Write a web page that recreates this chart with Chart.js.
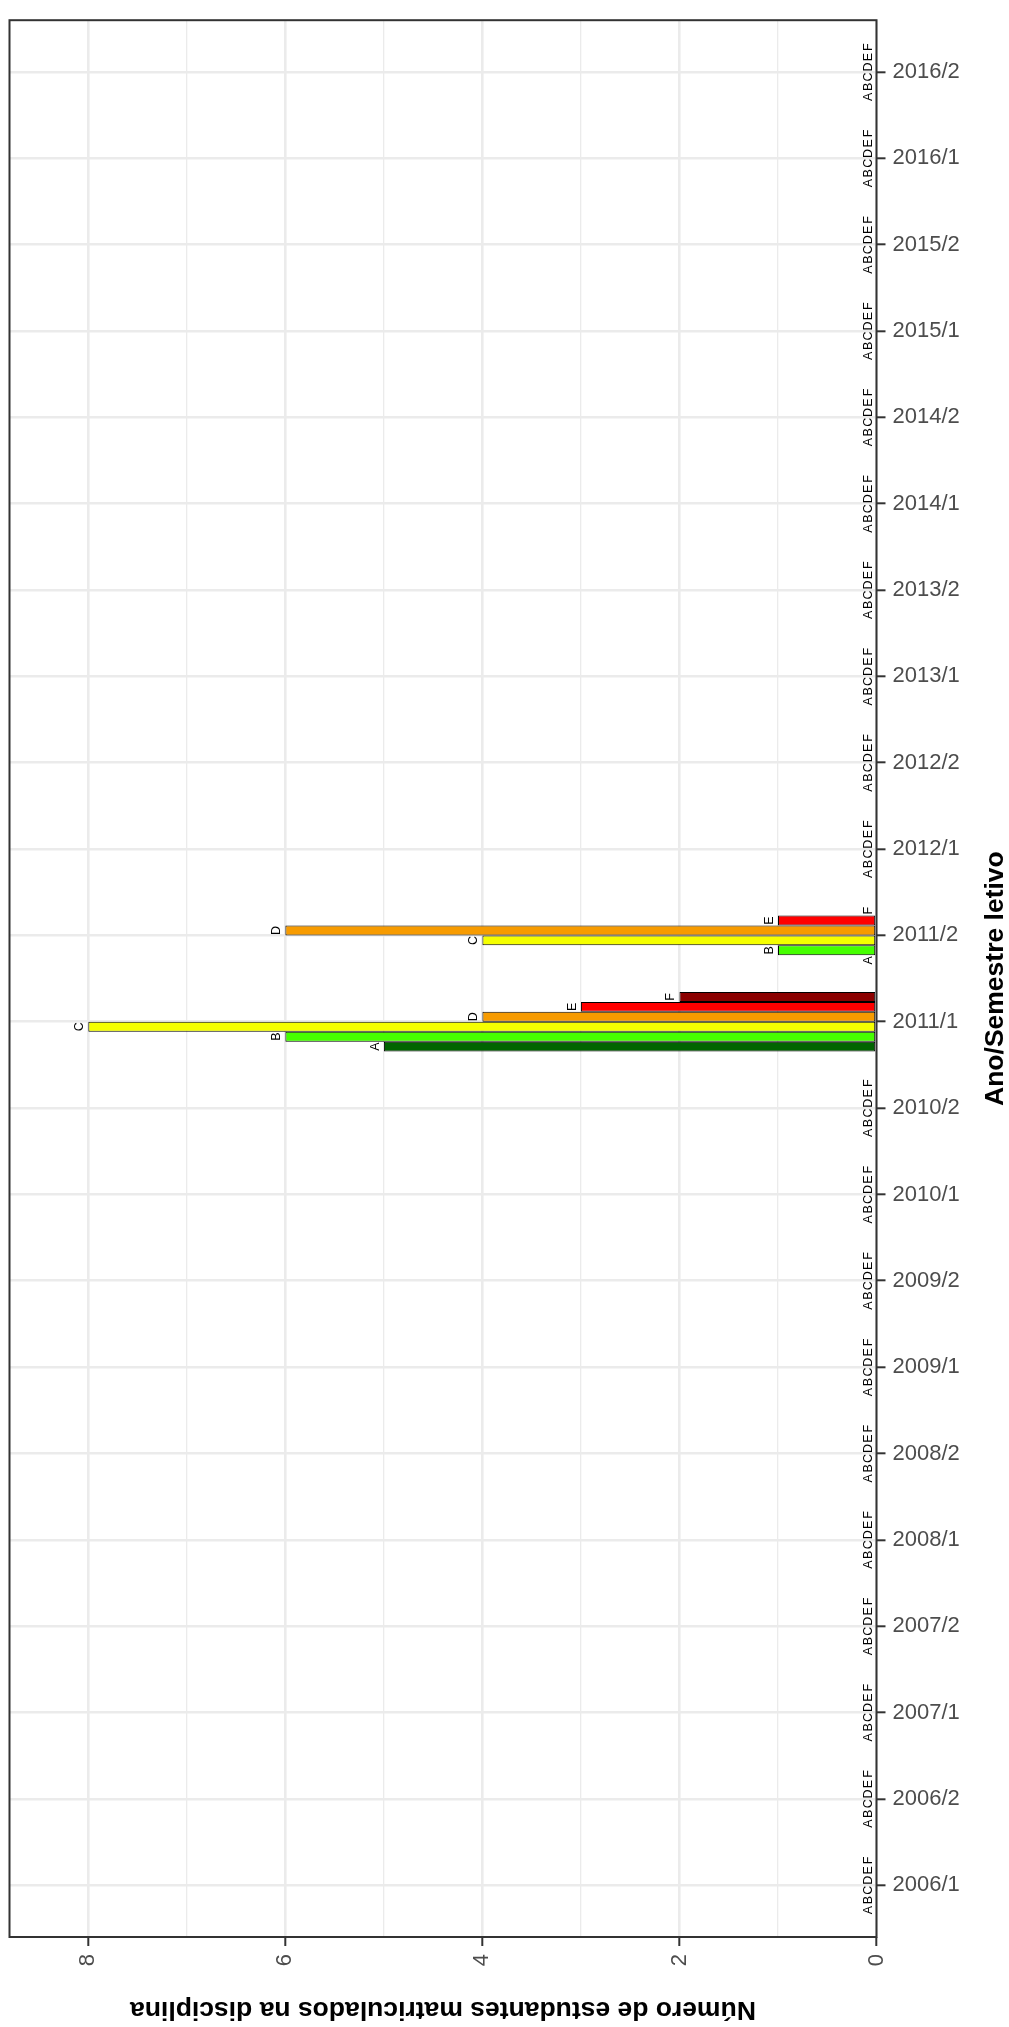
<!DOCTYPE html>
<html>
<head>
<meta charset="utf-8">
<script src="https://cdn.jsdelivr.net/npm/chart.js@4.4.1/dist/chart.umd.min.js"></script>
<style>
  html, body { margin: 0; padding: 0; background: #ffffff; }
  #wrap { width: 1009px; height: 2027px; position: relative; }
</style>
</head>
<body>
<div id="wrap"><canvas id="grafico"></canvas></div>
<script>
const semestres = ['2006/1', '2006/2', '2007/1', '2007/2', '2008/1', '2008/2', '2009/1', '2009/2',
  '2010/1', '2010/2', '2011/1', '2011/2', '2012/1', '2012/2', '2013/1', '2013/2',
  '2014/1', '2014/2', '2015/1', '2015/2', '2016/1', '2016/2'];
const conceitos = ['A', 'B', 'C', 'D', 'E', 'F'];

// estudantes por conceito, um valor por semestre
const notaA = [0,0,0,0,0,0,0,0,0,0,5,0,0,0,0,0,0,0,0,0,0,0];
const notaB = [0,0,0,0,0,0,0,0,0,0,6,1,0,0,0,0,0,0,0,0,0,0];
const notaC = [0,0,0,0,0,0,0,0,0,0,8,4,0,0,0,0,0,0,0,0,0,0];
const notaD = [0,0,0,0,0,0,0,0,0,0,4,6,0,0,0,0,0,0,0,0,0,0];
const notaE = [0,0,0,0,0,0,0,0,0,0,3,1,0,0,0,0,0,0,0,0,0,0];
const notaF = [0,0,0,0,0,0,0,0,0,0,2,0,0,0,0,0,0,0,0,0,0,0];

const ticksValor = [0, 2, 4, 6, 8];
const cores = ['#006400', '#46FF00', '#F5FF00', '#F79B00', '#FF0000', '#8B0000'];

const tituloValor = 'Número de estudantes matriculados na disciplina';
const tituloSemestre = 'Ano/Semestre letivo';

Chart.defaults.font.family = '"Liberation Sans", Arial, Helvetica, sans-serif';

const valores = [notaA, notaB, notaC, notaD, notaE, notaF];
// invertido para que A fique embaixo em cada grupo
const datasets = conceitos.map((letra, k) => ({
  label: letra,
  data: valores[k].map((v, i) => ({ x: v, y: i })),
  backgroundColor: cores[k],
  borderColor: '#000000',
  borderWidth: 1,
  borderSkipped: false
})).reverse();

const moldura = {
  id: 'moldura',
  afterDatasetsDraw(chart) {
    const { ctx, chartArea: a } = chart;
    ctx.save();
    ctx.strokeStyle = '#333333';
    ctx.lineWidth = 2;
    ctx.strokeRect(a.left, a.top, a.right - a.left, a.bottom - a.top);
    ctx.restore();
  }
};

const rotulos = {
  id: 'rotulos',
  afterDraw(chart) {
    const ctx = chart.ctx;
    const a = chart.chartArea;
    ctx.save();
    ctx.fillStyle = '#000000';
    ctx.textAlign = 'center';
    ctx.textBaseline = 'alphabetic';
    ctx.font = '12.5px "Liberation Sans", Arial, sans-serif';
    chart.data.datasets.forEach((ds, d) => {
      chart.getDatasetMeta(d).data.forEach(bar => {
        ctx.save();
        ctx.translate(bar.x - 5, bar.y);
        ctx.rotate(-Math.PI / 2);
        ctx.fillText(ds.label, 0, 0);
        ctx.restore();
      });
    });

    ctx.font = 'bold 26.5px "Liberation Sans", Arial, sans-serif';
    ctx.save();
    ctx.translate((a.left + a.right) / 2, 2002);
    ctx.rotate(Math.PI);
    ctx.fillText(tituloValor, 0, 0);
    ctx.restore();

    ctx.save();
    ctx.translate(1003, (a.top + a.bottom) / 2);
    ctx.rotate(-Math.PI / 2);
    ctx.fillText(tituloSemestre, 0, 0);
    ctx.restore();
    ctx.restore();
  }
};

new Chart(document.getElementById('grafico'), {
  type: 'bar',
  data: { datasets: datasets },
  plugins: [moldura, rotulos],
  options: {
    indexAxis: 'y',
    responsive: true,
    maintainAspectRatio: false,
    animation: false,
    layout: { autoPadding: false, padding: { left: 9.5, top: 9, right: 0, bottom: 0 } },
    categoryPercentage: 0.69,
    barPercentage: 1.0,
    plugins: { legend: { display: false }, tooltip: { enabled: false } },
    scales: {
      x: {
        type: 'linear',
        position: 'bottom',
        reverse: true,
        min: 0,
        max: 8.8,
        afterFit: s => { s.height = 90; },
        border: { display: false },
        grid: {
          color: '#EBEBEB',
          lineWidth: c => (c.tick && c.tick.value % 2 === 0) ? 2.6 : 1.3,
          tickColor: c => (c.tick && ticksValor.includes(c.tick.value)) ? '#333333' : 'rgba(0,0,0,0)',
          tickWidth: 2,
          tickLength: 9
        },
        ticks: {
          stepSize: 1,
          autoSkip: false,
          includeBounds: false,
          minRotation: 90,
          maxRotation: 90,
          padding: 8,
          color: '#4D4D4D',
          font: { size: 22 },
          callback: v => ticksValor.includes(v) ? String(v) : ''
        }
      },
      y: {
        type: 'linear',
        position: 'right',
        offset: false,
        min: -0.6,
        max: 21.6,
        afterFit: s => { s.width = 132.5; },
        border: { display: false },
        grid: {
          offset: false,
          color: '#EBEBEB',
          lineWidth: 2.6,
          tickColor: '#333333',
          tickWidth: 2,
          tickLength: 9
        },
        ticks: {
          stepSize: 1,
          autoSkip: false,
          includeBounds: false,
          padding: 7,
          color: '#4D4D4D',
          font: { size: 22 },
          callback: v => semestres[v] !== undefined ? semestres[v] : ''
        }
      }
    }
  }
});
</script>
</body>
</html>
